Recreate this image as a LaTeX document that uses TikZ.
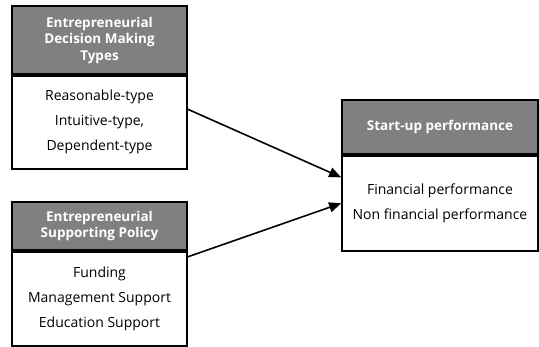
\documentclass[tikz,border=0pt]{standalone}
\usepackage{fontspec}
\setmainfont{Open Sans}
\usetikzlibrary{positioning,calc,arrows.meta}

\tikzset{
  headbox/.style={draw, line width=1.8pt, fill=black!50, text=white,
    font=\bfseries\fontsize{13.5}{16.5}\selectfont, align=center, inner sep=0pt},
  bodybox/.style={draw, line width=1.8pt, fill=white,
    font=\fontsize{14}{25}\selectfont, align=center, inner sep=0pt,
    execute at begin node={\vspace*{6pt}}},
  link/.style={line width=1.6pt, -{Triangle[length=12pt,width=10pt]}}
}

\begin{document}
\begin{tikzpicture}[x=1pt,y=1pt]
\useasboundingbox (0,0) rectangle (539,-347);

% left column
\node[headbox, minimum width=175pt, minimum height=68pt] (dmhead) at (99.5,-40)
  {Entrepreneurial\\Decision Making\\Types};
\node[bodybox, minimum width=175pt, minimum height=93pt, below=0pt of dmhead] (dmbody)
  {Reasonable-type\\Intuitive-type,\\Dependent-type};

\node[headbox, minimum width=175pt, minimum height=48pt] (sphead) at (99.5,-226)
  {Entrepreneurial\\Supporting Policy};
\node[bodybox, minimum width=175pt, minimum height=94pt, below=0pt of sphead] (spbody)
  {Funding\\Management Support\\Education Support};

% right column
\node[headbox, minimum width=196pt, minimum height=54pt] (perfhead) at (440,-127)
  {Start-up performance};
\node[bodybox, minimum width=196pt, minimum height=95pt, below=0pt of perfhead] (perfbody)
  {Financial performance\\Non financial performance};

% arrows
\draw[link] ([yshift=13pt]dmbody.east) -- ([yshift=26pt]perfbody.west);
\draw[link] ([yshift=42pt]spbody.east) -- (perfbody.west);
\end{tikzpicture}
\end{document}
